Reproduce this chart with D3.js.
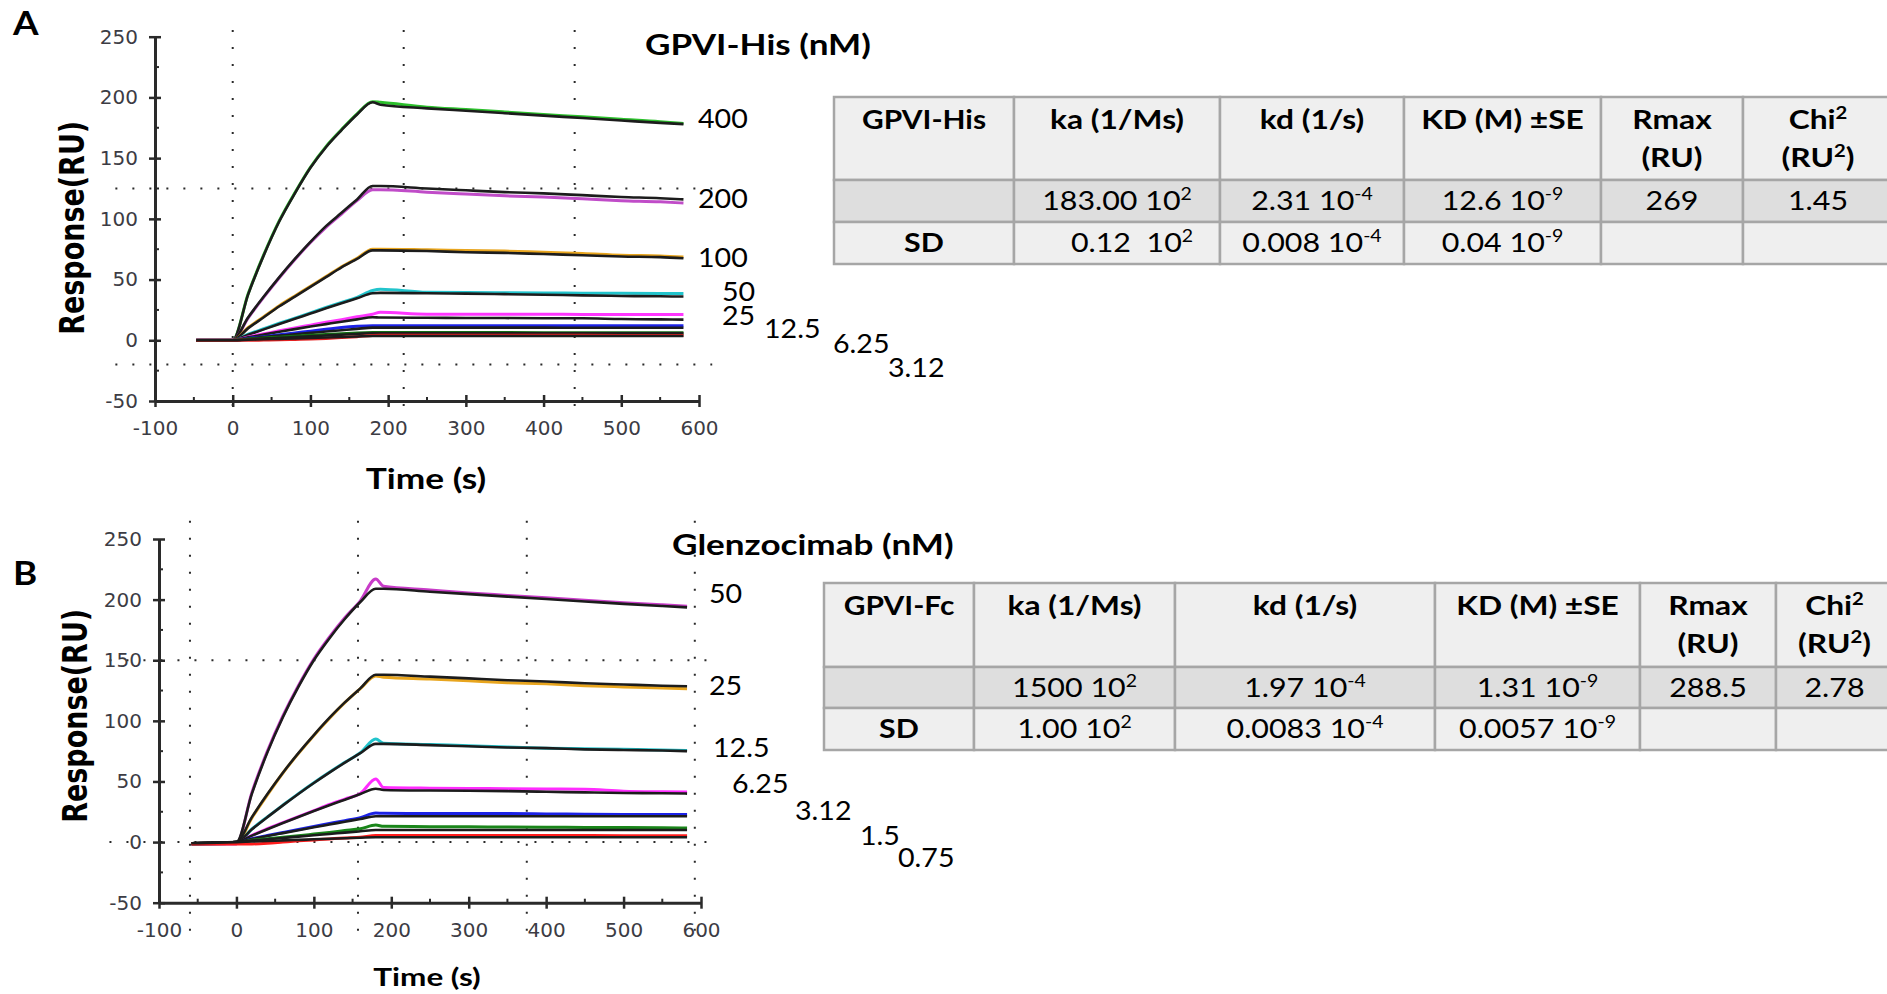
<!DOCTYPE html>
<html>
<head>
<meta charset="utf-8">
<script src="https://cdn.jsdelivr.net/npm/d3@7"></script>
<style>
  html, body { margin: 0; padding: 0; background: #fff; }
  svg { display: block; }
  text { white-space: pre; }
</style>
</head>
<body>
<div id="d3-container"></div>
<script>
/**
 * DATA
 * */
const xTicks = [-100, 0, 100, 200, 300, 400, 500, 600];
const xMinor = [-50, 50, 150, 250, 350, 450, 550];
const yTicks = [-50, 0, 50, 100, 150, 200, 250];
const yMinor = [-25, 25, 75, 125, 175, 225];

// panel A : GPVI-His
const timesA = [-47, 0, 20, 40, 60, 80, 100, 120, 140, 160, 180, 190, 250, 300, 350, 400, 450, 500, 550, 580];
const concA = ["400", "200", "100", "50", "25", "12.5", "6.25", "3.12"];
const fitA = [
  [0, 0, 38, 70, 98, 121, 142, 159, 173, 186, 196, 194, 191, 189, 187, 185, 183, 181, 179, 178],
  [0, 0, 19, 36, 52, 67, 81, 94, 105, 116, 127, 127, 125, 123.5, 122, 121, 119.5, 118, 117, 116],
  [0, 0, 10, 19, 28, 36, 44, 52, 60, 67, 74, 74, 73.5, 72.5, 72, 71, 70, 69, 68.5, 67.5],
  [0, 0, 4.5, 9, 13.4, 17.7, 22, 26.3, 30.5, 34.6, 38.7, 39, 38.7, 38.4, 38, 37.5, 37, 36.5, 36.2, 36],
  [0, 0, 2.4, 4.7, 7, 9.2, 11.3, 13.3, 15.3, 17.2, 19, 18.7, 18.5, 18.4, 18.3, 18.2, 18.1, 17.5, 17.2, 17],
  [0, 0, 1.3, 2.6, 3.8, 5, 6.1, 7.2, 8.3, 9.4, 10.4, 10.4, 10.4, 10.4, 10.4, 10.4, 10.3, 10.3, 10.3, 10.3],
  [0, 0, 0.7, 1.4, 2, 2.7, 3.3, 3.9, 4.6, 5.2, 5.8, 5.8, 5.8, 5.8, 5.8, 5.8, 5.7, 5.7, 5.7, 5.7],
  [0, 0, 0.4, 0.8, 1.2, 1.6, 1.9, 2.3, 2.7, 3.1, 3.5, 3.5, 3.5, 3.5, 3.5, 3.5, 3.5, 3.5, 3.5, 3.5]
];
const dataA = [
  [0, 0, 38.5, 70.5, 98.5, 121.5, 142.5, 159.5, 173.5, 186.5, 196.5, 196, 192, 190, 188, 186, 184, 182, 180, 178.5],
  [0, 0, 18.5, 35.5, 51.5, 66.5, 80.5, 93, 104, 115, 124, 124, 122, 120.5, 119, 118, 116.5, 115, 114, 113],
  [0, 0, 10.5, 19.5, 28.5, 36.5, 44.5, 52.5, 60.5, 67.5, 75, 75, 74.5, 74, 73.5, 72.5, 71.5, 70, 69.5, 68.5],
  [0, 0, 5, 9.5, 14, 18.3, 22.6, 27, 31.2, 35.3, 41, 42, 39.5, 39.3, 39.2, 39, 38.8, 38.7, 38.6, 38.5],
  [0, 0, 2.8, 5.3, 7.8, 10.2, 12.5, 14.8, 17, 19.3, 21.5, 23, 21.5, 21.5, 21.4, 21.4, 21.3, 21.3, 21.3, 21.3],
  [0, 0, 1.5, 3, 4.5, 6, 7.5, 9, 10.5, 11.5, 12, 12, 12, 12, 12, 12, 12, 12, 12, 12],
  [0, 0, 1, 1.8, 2.6, 3.4, 4.1, 4.8, 5.4, 6, 6.4, 6.5, 6.4, 6.4, 6.4, 6.3, 6.3, 6.3, 6.3, 6.3],
  [0, 0, 0, 0.2, 0.4, 0.7, 1, 1.5, 2.2, 3, 4, 4.2, 4.2, 4.1, 4.1, 4.1, 4.1, 4, 4, 4]
];

// panel B : Glenzocimab
const timesB = [-58, 0, 20, 40, 60, 80, 100, 120, 140, 160, 180, 190, 250, 300, 350, 400, 450, 500, 550, 582];
const concB = ["50", "25", "12.5", "6.25", "3.12", "1.5", "0.75"];
const fitB = [
  [-1, 0, 40, 74, 103, 128, 150, 168, 184, 198, 209, 209, 206.5, 204.5, 202.5, 200.5, 198.5, 196.5, 194.7, 193.6],
  [-1, 0, 20.6, 39.6, 57.2, 73.4, 88.3, 102.4, 115.2, 126.8, 138, 138, 136.5, 135, 133.5, 132.5, 131, 130, 129, 128.5],
  [-1, 0, 10.6, 20.6, 30.3, 39.7, 48.7, 57.3, 65.5, 73.4, 81, 81, 80, 79, 78, 77.5, 76.5, 76, 75.5, 75],
  [-1, 0, 5.3, 10.6, 15.7, 20.7, 25.6, 30.4, 35, 39.6, 44, 43, 42.5, 42.3, 42, 41.5, 41, 40.5, 40.3, 40],
  [-1, 0, 2.5, 5, 7.4, 9.8, 12.2, 14.5, 16.8, 19.1, 21.3, 21.3, 21.3, 21.3, 21.3, 21.3, 21.3, 21.3, 21.3, 21.3],
  [-1, 0, 1.2, 2.3, 3.4, 4.5, 5.6, 6.7, 7.8, 8.9, 10, 10, 10, 10, 10, 10, 10, 10, 10, 10],
  [-1, 0, 0.5, 0.9, 1.4, 1.8, 2.3, 2.7, 3.2, 3.6, 4, 4, 4, 4, 4, 4, 4, 4, 4, 4]
];
const dataB = [
  [-1.5, -1.5, 41, 75, 104, 129, 151, 169, 185, 199, 217, 211, 208, 205.5, 203.5, 201.5, 199.5, 197.5, 195.7, 194.6],
  [-1.5, -1, 20, 39, 57, 73, 88, 102, 115, 126.5, 137, 136, 134.5, 133, 131.5, 130.5, 129, 128, 127, 126.5],
  [-1.5, -1, 10.8, 20.8, 30.5, 40, 49, 57.6, 65.8, 73.7, 85, 81.5, 80.5, 79.5, 78.5, 77.5, 77, 76.5, 76, 75.5],
  [-1.5, -1, 5.6, 11, 16, 21, 26, 31, 35.5, 40, 52, 45, 44.5, 44.3, 44, 43.8, 43.5, 42, 41.5, 41.3],
  [-1.5, -1, 2.8, 5.4, 7.9, 10.4, 12.9, 15.3, 17.7, 20.2, 24, 23.7, 23.6, 23.5, 23.5, 23.2, 23, 22.8, 22.7, 22.7],
  [-1.5, -1, 1.5, 2.7, 3.9, 5.2, 6.6, 8, 9.5, 11, 14, 13, 12.7, 12.6, 12.4, 12.3, 12.1, 12, 11.8, 11.6],
  [-1.5, -1.5, -1.5, -1, 0, 1, 1.8, 2.6, 3.4, 4, 5.5, 5.5, 5.5, 5.5, 5.5, 5.4, 5.4, 5.3, 5.3, 5.3]
];

// tables ( ^x^ = superscript )
const headA = [["GPVI-His"], ["ka (1/Ms)"], ["kd (1/s)"], ["KD (M) \u00b1SE"], ["Rmax", "(RU)"], ["Chi^2^", "(RU^2^)"]];
const rowsA = [
  ["", "183.00 10^2^", "2.31 10^-4^", "12.6 10^-9^", "269", "1.45"],
  ["SD", "0.12  10^2^", "0.008 10^-4^", "0.04 10^-9^", "", ""]
];
const headB = [["GPVI-Fc"], ["ka (1/Ms)"], ["kd (1/s)"], ["KD (M) \u00b1SE"], ["Rmax", "(RU)"], ["Chi^2^", "(RU^2^)"]];
const rowsB = [
  ["", "1500 10^2^", "1.97 10^-4^", "1.31 10^-9^", "288.5", "2.78"],
  ["SD", "1.00 10^2^", "0.0083 10^-4^", "0.0057 10^-9^", "", ""]
];

/**
 * LAYOUT / STYLE
 * */
const W = 1887, H = 994;
const CAL = "Lato";      // stands in for Calibri
const colorsA = ["#2cc02c", "#c04cc8", "#e8a51e", "#22c4cc", "#ff36ff", "#1c22e6", "#136e13", "#e42020"];
const colorsB = ["#c83cc8", "#e8a51e", "#22c4cc", "#ff2cff", "#1c22e6", "#1a861a", "#ff1c1c"];

const panels = [
  { letter: "A", letterPos: [13, 35], times: timesA, fits: fitA, datas: dataA, colors: colorsA,
    xr: [155, 699], yr: [401, 36.7],
    gridX: [0, 220, 440], gridXSpan: [-63, 255.5], gridY: [125, -20], gridYSpan: [-151, 617],
    conc: concA, concPos: [[698, 128], [698, 208], [698, 267], [722, 301], [722, 325], [764, 338], [833, 353], [888, 377]],
    title: "GPVI-His (nM)", titlePos: [645, 55],
    ylabX: 72, timePos: [426, 489], timeSize: 28,
    head: headA, rows: rowsA, cols: [834, 1014, 1220, 1404, 1601, 1743, 1893], rowY: [97, 180, 222, 264],
    cellDx: { "1,1": 15 } },
  { letter: "B", letterPos: [13, 585], times: timesB, fits: fitB, datas: dataB, colors: colorsB,
    xr: [159, 701], yr: [902.7, 539],
    gridX: [-60, 157, 375, 592], gridXSpan: [-85, 265], gridY: [150, 0], gridYSpan: [-164, 614],
    conc: concB, concPos: [[709, 603], [709, 695], [713, 757], [732, 793], [795, 820], [860, 845], [898, 867]],
    title: "Glenzocimab (nM)", titlePos: [672, 555],
    ylabX: 75, timePos: [427, 986], timeSize: 25,
    head: headB, rows: rowsB, cols: [824, 974, 1175, 1435, 1640, 1776, 1893], rowY: [583, 667, 708, 750],
    cellDx: {} }
];

const svg = d3.select("#d3-container")
  .append("svg")
  .attr("width", W)
  .attr("height", H);

// text with optional ^superscript^ parts, stretched sideways by o.sx
function stext(sel, x, y, str, o) {
  const size = o.size;
  const t = sel.append("text")
    .attr("transform", `translate(${x},${y}) scale(${o.sx},1)`)
    .attr("font-family", o.font || CAL)
    .attr("font-size", size)
    .attr("font-weight", o.bold ? 700 : 400)
    .attr("fill", o.fill || "#000")
    .attr("text-anchor", o.anchor || "start");
  const parts = str.split("^");
  let shift = 0;
  parts.forEach((p, i) => {
    if (!p) return;
    const sup = i % 2 === 1;
    const want = sup ? -size * 0.38 : 0;
    t.append("tspan")
      .attr("dy", want - shift)
      .attr("font-size", sup ? size * 0.64 : size)
      .text(p);
    shift = want;
  });
  return t;
}

panels.forEach(p => {
  const g = svg.append("g");
  const x = d3.scaleLinear().domain([-100, 600]).range(p.xr);
  const y = d3.scaleLinear().domain([-50, 250]).range(p.yr);

  // dotted grid
  const grid = g.append("g")
    .attr("stroke", "#2a2a2a")
    .attr("stroke-width", 2)
    .attr("stroke-dasharray", "2 15");
  grid.selectAll("line.gx").data(p.gridX).join("line")
    .attr("class", "gx")
    .attr("x1", d => x(d)).attr("x2", d => x(d))
    .attr("y1", y(p.gridXSpan[1])).attr("y2", y(p.gridXSpan[0]));
  grid.selectAll("line.gy").data(p.gridY).join("line")
    .attr("class", "gy")
    .attr("y1", d => y(d)).attr("y2", d => y(d))
    .attr("x1", x(p.gridYSpan[0])).attr("x2", x(p.gridYSpan[1]));

  // sensorgrams: measured (colour) under fit (black)
  const line = d3.line()
    .x((d, i) => x(p.times[i]))
    .y(d => y(d))
    .curve(d3.curveMonotoneX);
  const curves = g.append("g").attr("fill", "none").attr("stroke-linejoin", "round");
  p.datas.forEach((vals, k) => {
    curves.append("path")
      .attr("d", line(vals))
      .attr("stroke", p.colors[k])
      .attr("stroke-width", 3);
    curves.append("path")
      .attr("d", line(p.fits[k]))
      .attr("stroke", "#1c1c1c")
      .attr("stroke-width", 2.6);
  });

  // axes
  const yAxis = d3.axisLeft(y)
    .tickValues(yTicks)
    .tickSize(6)
    .tickSizeOuter(0)
    .tickPadding(11)
    .tickFormat(d => String(d));
  const ya = g.append("g")
    .attr("transform", `translate(${x(-100)},0)`)
    .call(yAxis);
  ya.selectAll(".tick line").attr("x1", 6);

  const xAxis = d3.axisBottom(x)
    .tickValues(xTicks)
    .tickSize(6)
    .tickSizeOuter(0)
    .tickPadding(14)
    .tickFormat(d => String(d));
  const xa = g.append("g")
    .attr("transform", `translate(0,${y(-50)})`)
    .call(xAxis);
  xa.selectAll(".tick line").attr("y1", -6);

  [ya, xa].forEach(a => {
    a.select(".domain").attr("stroke", "#2a2a2a").attr("stroke-width", 3);
    a.selectAll(".tick line").attr("stroke", "#2a2a2a").attr("stroke-width", 2.5);
    a.selectAll(".tick text")
      .attr("font-family", "DejaVu Sans")
      .attr("font-size", 20)
      .attr("fill", "#3c3c44");
  });

  g.append("g").selectAll("line").data(yMinor).join("line")
    .attr("x1", x(-100)).attr("x2", x(-100) + 4)
    .attr("y1", d => y(d)).attr("y2", d => y(d))
    .attr("stroke", "#2a2a2a").attr("stroke-width", 2);
  g.append("g").selectAll("line").data(xMinor).join("line")
    .attr("x1", d => x(d)).attr("x2", d => x(d))
    .attr("y1", y(-50)).attr("y2", y(-50) - 4)
    .attr("stroke", "#2a2a2a").attr("stroke-width", 2);

  // axis titles
  const yMid = (p.yr[0] + p.yr[1]) / 2 + (p.letter === "A" ? 9 : -5);
  g.append("text")
    .attr("transform", `translate(${p.ylabX},${yMid}) scale(1.25,1) rotate(-90)`)
    .attr("dy", "0.36em")
    .attr("text-anchor", "middle")
    .attr("font-family", "DejaVu Sans")
    .attr("font-weight", 700)
    .attr("font-size", 27)
    .text("Response(RU)");
  stext(g, p.timePos[0], p.timePos[1], "Time (s)", { size: p.timeSize, bold: true, anchor: "middle", sx: 1.26 });

  // panel letter, title, concentrations
  stext(g, p.letterPos[0], p.letterPos[1], p.letter, { size: 32, bold: true, sx: 1.15 });
  stext(g, p.titlePos[0], p.titlePos[1], p.title, { size: 29, bold: true, sx: 1.21 });
  p.conc.forEach((c, i) => stext(g, p.concPos[i][0], p.concPos[i][1], c, { size: 26, sx: 1.1 }));

  // kinetics table
  const tb = g.append("g");
  const fills = ["#efefef", "#dedede", "#efefef"];
  for (let r = 0; r < 3; r++) {
    for (let c = 0; c < 6; c++) {
      tb.append("rect")
        .attr("x", p.cols[c]).attr("y", p.rowY[r])
        .attr("width", p.cols[c + 1] - p.cols[c])
        .attr("height", p.rowY[r + 1] - p.rowY[r])
        .attr("fill", fills[r])
        .attr("stroke", "#a6a6a6")
        .attr("stroke-width", 2.5);
    }
  }
  p.head.forEach((lines, c) => {
    const cx = (p.cols[c] + p.cols[c + 1]) / 2;
    lines.forEach((s, j) => stext(tb, cx, p.rowY[0] + 32 + j * 38, s,
      { size: 26, bold: true, anchor: "middle", sx: c === 0 ? 1.15 : 1.22 }));
  });
  p.rows.forEach((row, r) => {
    row.forEach((s, c) => {
      if (!s) return;
      const cx = (p.cols[c] + p.cols[c + 1]) / 2 + (p.cellDx[`${r},${c}`] || 0);
      stext(tb, cx, p.rowY[r + 1] + 30, s, { size: 26, bold: c === 0, anchor: "middle", sx: 1.17 });
    });
  });
});
</script>
</body>
</html>
